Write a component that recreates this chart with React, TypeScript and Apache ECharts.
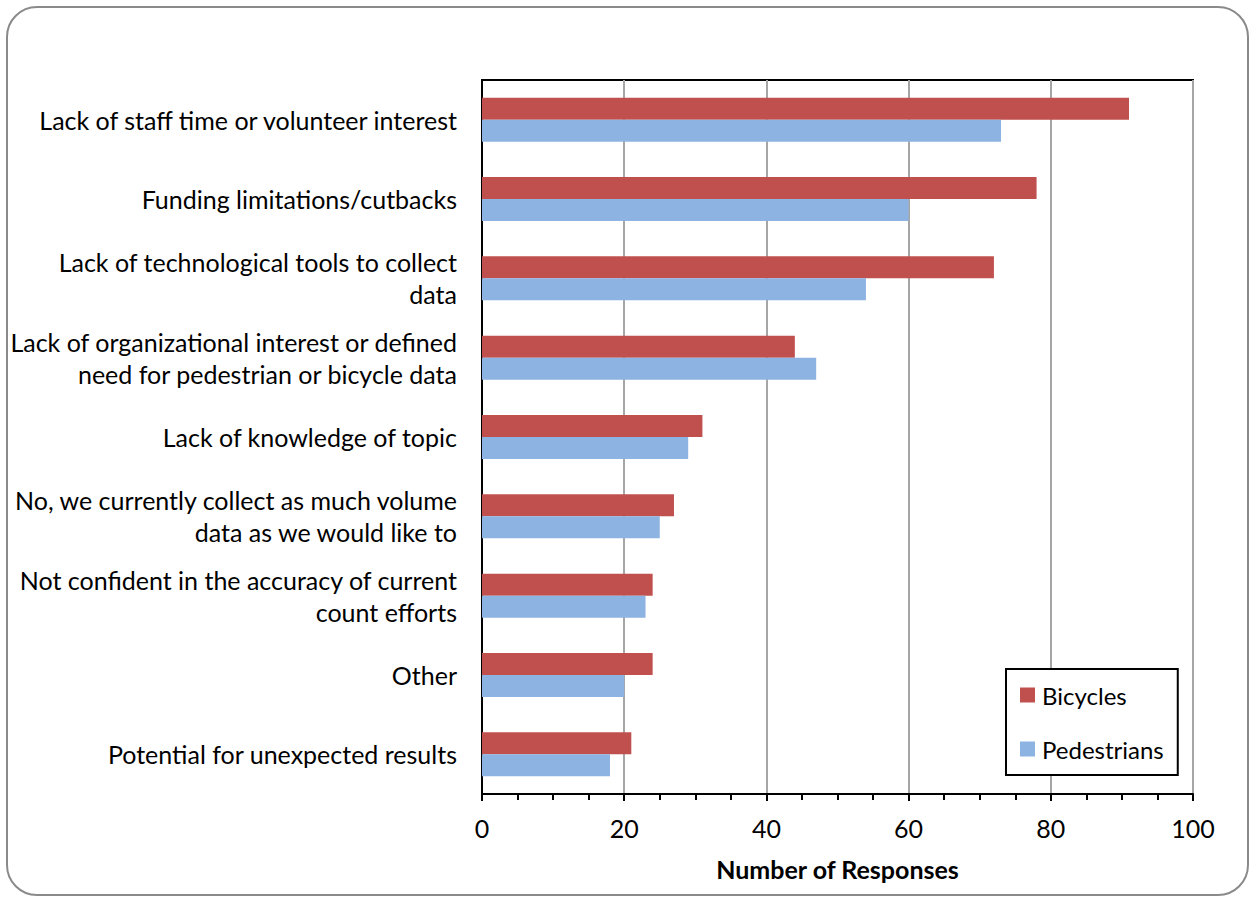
import React, { useEffect, useRef } from "react";
import * as echarts from "echarts";

const categories = [
  "Lack of staff time or volunteer interest",
  "Funding limitations/cutbacks",
  "Lack of technological tools to collect\ndata",
  "Lack of organizational interest or defined\nneed for pedestrian or bicycle data",
  "Lack of knowledge of topic",
  "No, we currently collect as much volume\ndata as we would like to",
  "Not confident in the accuracy of current\ncount efforts",
  "Other",
  "Potential for unexpected results",
];
const bicycles = [91, 78, 72, 44, 31, 27, 24, 24, 21];
const pedestrians = [73, 60, 54, 47, 29, 25, 23, 20, 18];
const xTicks = { min: 0, max: 100, interval: 20 };

const FONT = "Lato";

export default function App() {
  const ref = useRef<HTMLDivElement>(null);
  useEffect(() => {
    const chart = echarts.init(ref.current!, null, { renderer: "svg" });
    chart.setOption({
      animation: false,
      backgroundColor: "#fff",
      textStyle: { fontFamily: FONT },
      graphic: [
        {
          type: "rect",
          shape: { x: 7, y: 7, width: 1241, height: 888, r: 30 },
          style: { fill: "none", stroke: "#8a8a8a", lineWidth: 2 },
          z: -1,
        },
      ],
      grid: {
        left: 482,
        top: 80,
        right: 57,
        bottom: 103,
        show: true,
        borderColor: "#000",
        borderWidth: 2,
        backgroundColor: "transparent",
      },
      legend: {
        orient: "vertical",
        left: 1006,
        top: 669,
        padding: [14, 14, 14, 14],
        itemGap: 30,
        itemWidth: 15,
        itemHeight: 15,
        icon: "rect",
        borderColor: "#000",
        borderWidth: 2,
        backgroundColor: "#fff",
        textStyle: { fontFamily: FONT, fontSize: 24, color: "#000", padding: [0, 0, 0, 2] },
        data: ["Bicycles", "Pedestrians"],
      },
      xAxis: {
        type: "value",
        min: xTicks.min,
        max: xTicks.max,
        interval: xTicks.interval,
        name: "Number of Responses",
        nameLocation: "middle",
        nameGap: 62,
        nameTextStyle: { fontFamily: FONT, fontSize: 25, fontWeight: "bold", color: "#000" },
        axisLine: { show: true, lineStyle: { color: "#000", width: 2 } },
        axisTick: { show: true, length: 7, lineStyle: { color: "#000", width: 2 } },
        minorTick: { show: true, splitNumber: 4, length: 6, lineStyle: { color: "#000", width: 2 } },
        axisLabel: { fontFamily: FONT, fontSize: 25, color: "#000", margin: 21 },
        splitLine: { show: true, lineStyle: { color: "#a6a6a6", width: 2 } },
      },
      yAxis: {
        type: "category",
        inverse: true,
        data: categories,
        axisLine: { show: true, lineStyle: { color: "#000", width: 2 } },
        axisTick: { show: false },
        axisLabel: {
          fontFamily: FONT,
          fontSize: 25,
          color: "#000",
          margin: 25,
          lineHeight: 32,
          align: "right",
        },
        splitLine: { show: false },
      },
      series: [
        {
          name: "Bicycles",
          type: "bar",
          data: bicycles,
          barWidth: 22,
          barGap: "0%",
          itemStyle: { color: "#C0504D" },
        },
        {
          name: "Pedestrians",
          type: "bar",
          data: pedestrians,
          barWidth: 22,
          barGap: "0%",
          itemStyle: { color: "#8DB3E2" },
        },
      ],
    });
    return () => chart.dispose();
  }, []);
  return (
    <div
      ref={ref}
      style={{ position: "absolute", left: 0, top: 0, width: 1250, height: 897 }}
    />
  );
}
